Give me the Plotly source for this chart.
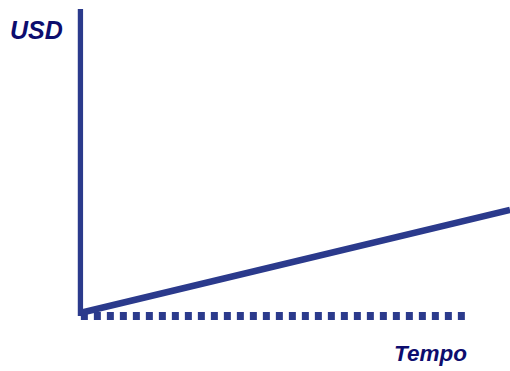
import plotly.graph_objects as go

# Value over time: a steady linear rise from the origin
tempo = [0, 10]
usd = [0, 2.4]

# Axis extents (data units)
usd_axis_top = 7.07
tempo_axis_end = 9.05
baseline_usd = -0.07

LINE_COLOR = "#2B3A8C"
TEXT_COLOR = "#0D0D6E"

fig = go.Figure()

# vertical value axis
fig.add_trace(go.Scatter(
    x=[0.01, 0.01], y=[baseline_usd, usd_axis_top], mode="lines",
    line=dict(color=LINE_COLOR, width=5.3), hoverinfo="skip"))

# dashed time axis
fig.add_trace(go.Scatter(
    x=[0.02, tempo_axis_end], y=[baseline_usd, baseline_usd], mode="lines",
    line=dict(color=LINE_COLOR, width=8, dash="7px,6px"), hoverinfo="skip"))

# growth line
fig.add_trace(go.Scatter(
    x=tempo, y=usd, mode="lines",
    line=dict(color=LINE_COLOR, width=6.5), hoverinfo="skip"))

fig.add_annotation(
    x=-1.02, y=6.58, text="<b><i>USD</i></b>", showarrow=False,
    font=dict(family="Liberation Sans, Arial", size=25, color=TEXT_COLOR))
fig.add_annotation(
    x=8.16, y=-0.95, text="<b><i>Tempo</i></b>", showarrow=False,
    font=dict(family="Liberation Sans, Arial", size=22.5, color=TEXT_COLOR))

fig.update_layout(
    width=510, height=371,
    margin=dict(l=0, r=0, t=0, b=0),
    paper_bgcolor="white", plot_bgcolor="white",
    showlegend=False,
    xaxis=dict(range=[-80 / 43, 430 / 43], visible=False, fixedrange=True),
    yaxis=dict(range=[-58 / 43, 313 / 43], visible=False, fixedrange=True),
)

fig.write_html("out.html", config={"displayModeBar": False})
